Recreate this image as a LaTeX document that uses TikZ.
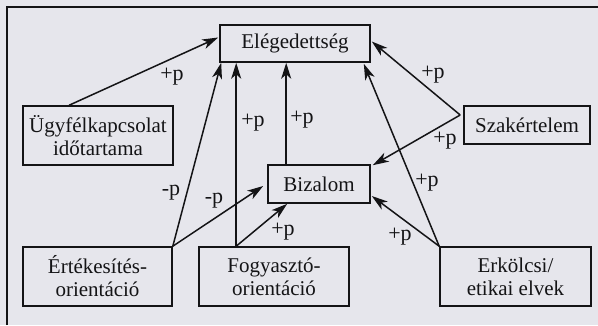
\documentclass[tikz,border=0pt]{standalone}
\usepackage{fontspec}
\setmainfont{Liberation Serif}
\usetikzlibrary{arrows.meta,calc}
\definecolor{bgc}{RGB}{230,230,236}
\definecolor{ink}{RGB}{20,20,22}
\tikzset{
  box/.style={draw=ink, line width=1.6pt, inner sep=0pt, align=center, text=ink,
    font=\fontsize{21}{23}\selectfont},
  arr/.style={draw=ink, line width=1.5pt, -{Stealth[length=16pt,width=10pt,inset=4.5pt]}},
  lab/.style={text=ink, font=\fontsize{22}{22}\selectfont, inner sep=0pt},
}
\begin{document}
\begin{tikzpicture}[x=1pt,y=-1pt]
\fill[bgc] (0,0) rectangle (598,325);
\useasboundingbox (0,0) rectangle (598,325);
\draw[ink, line width=1.5pt] (7,325) -- (7,7) -- (598,7);

\node[box, minimum width=150pt, minimum height=37pt] (ely) at (295,43.5) {Elégedettség};
\node[box, minimum width=150pt, minimum height=59pt] (ugy) at (98,135.5) {Ügyfélkapcsolat\\időtartama};
\node[box, minimum width=126pt, minimum height=38pt] (sza) at (527,125) {Szakértelem};
\node[box, minimum width=102pt, minimum height=38pt] (biz) at (319,184) {Bizalom};
\node[box, minimum width=149pt, minimum height=59pt] (ert) at (97.5,276.5) {Értékesítés-\\orientáció};
\node[box, minimum width=150pt, minimum height=59pt] (fog) at (274,276.5) {Fogyasztó-\\orientáció};
\node[box, minimum width=151pt, minimum height=59pt] (erk) at (515.5,276.5) {Erkölcsi/\\etikai elvek};

\coordinate (ugyT) at ($(ugy.north west)+(47,0)$);
\coordinate (elyL) at ($(ely.west)+(-1,-6)$);
\coordinate (elyB1) at ($(ely.south west)+(2,0)$);
\coordinate (elyB2) at ($(ely.south west)+(17,0)$);
\coordinate (elyB3) at ($(ely.south west)+(67,0)$);
\coordinate (elyB4) at ($(ely.south east)+(-7,1)$);
\coordinate (elyR) at ($(ely.east)+(1,-2)$);
\coordinate (fogT) at ($(fog.north west)+(38,0)$);
\coordinate (bizT) at ($(biz.north west)+(19,0)$);
\coordinate (bizL) at ($(biz.west)+(-4,2)$);
\coordinate (bizB) at ($(biz.south west)+(20,0)$);
\coordinate (bizTR) at ($(biz.north east)+(2,1)$);
\coordinate (bizR) at ($(biz.east)+(1,12)$);
\coordinate (szaL) at ($(sza.west)+(-3,-10)$);

\draw[arr] (ugyT) -- (elyL);
\draw[arr] (ert.north east) -- (elyB1);
\draw[arr] (fogT) -- (elyB2);
\draw[arr] (bizT) -- (elyB3);
\draw[arr] (ert.north east) -- (bizL);
\draw[arr] (fogT) -- (bizB);
\draw[arr] (szaL) -- (elyR);
\draw[arr] (szaL) -- (bizTR);
\draw[arr] (erk.north west) -- (elyB4);
\draw[arr] (erk.north west) -- (bizR);

\node[lab] (l1) at (172,77) {+p};
\node[lab] (l2) at (171,193) {-p};
\node[lab] (l3) at (253,123) {+p};
\node[lab] (l4) at (302,120) {+p};
\node[lab] (l5) at (214,201) {-p};
\node[lab] (l6) at (283,232) {+p};
\node[lab] (l7) at (433,75) {+p};
\node[lab] (l8) at (445,141) {+p};
\node[lab] (l9) at (427,183) {+p};
\node[lab] (l10) at (400,237) {+p};
\end{tikzpicture}
\end{document}
